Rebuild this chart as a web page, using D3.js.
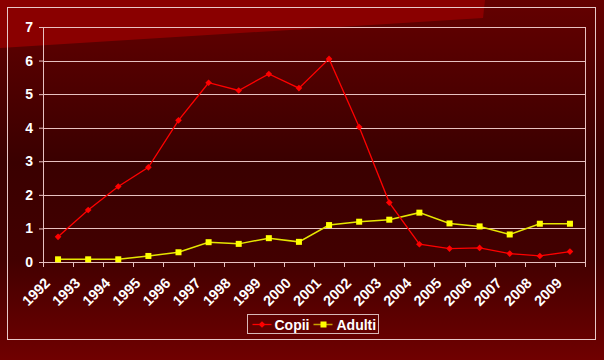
<!DOCTYPE html>
<html>
<head>
<meta charset="utf-8">
<script src="https://cdn.jsdelivr.net/npm/d3@7"></script>
<style>
  body { margin: 0; background: #000; }
  svg text { font-family: "Liberation Sans", Arial, sans-serif; font-weight: bold; fill: #fff; }
</style>
</head>
<body>
<div id="chart"></div>
<script>
var years = ["1992", "1993", "1994", "1995", "1996", "1997", "1998", "1999", "2000",
  "2001", "2002", "2003", "2004", "2005", "2006", "2007", "2008", "2009"];
var copii = [0.75, 1.55, 2.25, 2.82, 4.22, 5.34, 5.11, 5.6, 5.18,
  6.05, 4.02, 1.77, 0.53, 0.4, 0.42, 0.25, 0.18, 0.31];
var adulti = [0.08, 0.08, 0.08, 0.18, 0.29, 0.59, 0.54, 0.71, 0.6,
  1.1, 1.2, 1.26, 1.47, 1.15, 1.06, 0.82, 1.14, 1.14];
var yTicks = [0, 1, 2, 3, 4, 5, 6, 7];

var svgWidth = 604;
var svgHeight = 360;

var margin = { top: 27, right: 19, bottom: 98, left: 43 };
var width = svgWidth - margin.left - margin.right;
var height = svgHeight - margin.top - margin.bottom;

var svg = d3.select("#chart")
  .append("svg")
  .attr("width", svgWidth)
  .attr("height", svgHeight);

// background gradient
var defs = svg.append("defs");
var bg = defs.append("linearGradient")
  .attr("id", "bg")
  .attr("x1", 0).attr("y1", 0).attr("x2", 0).attr("y2", 1);
bg.append("stop").attr("offset", "0%").attr("stop-color", "#640000");
bg.append("stop").attr("offset", "45%").attr("stop-color", "#3a0000");
bg.append("stop").attr("offset", "72%").attr("stop-color", "#420000");
bg.append("stop").attr("offset", "100%").attr("stop-color", "#700000");

svg.append("rect")
  .attr("width", svgWidth)
  .attr("height", svgHeight)
  .attr("fill", "url(#bg)");

// lighter slanted band at the top
svg.append("path")
  .attr("d", "M0,0 L485,0 L483,18 L0,48 Z")
  .attr("fill", "#8a0000");

// outer frame
svg.append("rect")
  .attr("x", 7.5).attr("y", 7.5)
  .attr("width", 588).attr("height", 332)
  .attr("fill", "none")
  .attr("stroke", "#e8c8c8")
  .attr("stroke-width", 1);

var chartGroup = svg.append("g")
  .attr("transform", `translate(${margin.left}, ${margin.top})`);

var xBand = d3.scaleBand()
  .domain(years)
  .range([0, width]);

var yLinearScale = d3.scaleLinear()
  .domain([0, 7])
  .range([height, 0]);

// gridlines
chartGroup.selectAll(".grid")
  .data(yTicks.slice(1))
  .enter()
  .append("line")
  .attr("x1", 0)
  .attr("x2", width)
  .attr("y1", d => Math.round(yLinearScale(d)) + 0.5)
  .attr("y2", d => Math.round(yLinearScale(d)) + 0.5)
  .attr("stroke", "#e8c0c0")
  .attr("stroke-width", 1);

// right border of plot
chartGroup.append("line")
  .attr("x1", width + 0.5).attr("x2", width + 0.5)
  .attr("y1", 0).attr("y2", height)
  .attr("stroke", "#e8c0c0");

// y axis
var leftAxis = d3.axisLeft(yLinearScale)
  .tickValues(yTicks)
  .tickSize(4)
  .tickPadding(6)
  .tickFormat(d3.format("d"));

var yAxis = chartGroup.append("g")
  .call(leftAxis);
yAxis.select(".domain").attr("stroke", "#e8c0c0");
yAxis.selectAll(".tick line").attr("stroke", "#e8c0c0");
yAxis.selectAll("text")
  .attr("font-size", "14px")
  .style("font-family", "Liberation Sans, Arial, sans-serif")
  .style("font-weight", "bold")
  .attr("fill", "#fff");

// x axis: ticks between categories
var xAxisGroup = chartGroup.append("g")
  .attr("transform", `translate(0, ${height})`);
xAxisGroup.append("line")
  .attr("x1", 0).attr("x2", width)
  .attr("y1", 0.5).attr("y2", 0.5)
  .attr("stroke", "#e8c0c0");
xAxisGroup.selectAll(".xtick")
  .data(d3.range(years.length + 1))
  .enter()
  .append("line")
  .attr("x1", i => Math.round(i * xBand.step()) + 0.5)
  .attr("x2", i => Math.round(i * xBand.step()) + 0.5)
  .attr("y1", 0)
  .attr("y2", 5)
  .attr("stroke", "#e8c0c0");

xAxisGroup.selectAll(".xlabel")
  .data(years)
  .enter()
  .append("text")
  .attr("class", "xlabel")
  .attr("text-anchor", "end")
  .attr("font-size", "14.5px")
  .attr("transform", d => `translate(${xBand(d) + xBand.bandwidth() / 2 - 7}, 22) rotate(-45)`)
  .text(d => d);

// lines
var cx = (d, i) => xBand(years[i]) + xBand.bandwidth() / 2;

var line = d3.line()
  .x(cx)
  .y(d => yLinearScale(d));

chartGroup.append("path")
  .datum(adulti)
  .attr("d", line)
  .attr("fill", "none")
  .attr("stroke", "#e6e600")
  .attr("stroke-width", 1.5);

chartGroup.selectAll(".adultiPt")
  .data(adulti)
  .enter()
  .append("rect")
  .attr("x", (d, i) => cx(d, i) - 3)
  .attr("y", d => yLinearScale(d) - 3)
  .attr("width", 6)
  .attr("height", 6)
  .attr("fill", "#ffff00");

chartGroup.append("path")
  .datum(copii)
  .attr("d", line)
  .attr("fill", "none")
  .attr("stroke", "#ff0000")
  .attr("stroke-width", 1.3);

var diamond = d3.symbol().type(d3.symbolSquare).size(22);

chartGroup.selectAll(".copiiPt")
  .data(copii)
  .enter()
  .append("path")
  .attr("d", diamond)
  .attr("transform", (d, i) => `translate(${cx(d, i)}, ${yLinearScale(d)}) rotate(45)`)
  .attr("fill", "#ff0000");

// legend
var legend = svg.append("g")
  .attr("transform", "translate(247.5, 314.5)");
legend.append("rect")
  .attr("width", 131)
  .attr("height", 19)
  .attr("fill", "none")
  .attr("stroke", "#d8b8b8");

legend.append("line")
  .attr("x1", 5).attr("x2", 24).attr("y1", 10).attr("y2", 10)
  .attr("stroke", "#ff0000").attr("stroke-width", 1.3);
legend.append("path")
  .attr("d", diamond)
  .attr("transform", "translate(14.5, 10) rotate(45)")
  .attr("fill", "#ff0000");
legend.append("text")
  .attr("x", 27).attr("y", 15)
  .attr("font-size", "14px")
  .text("Copii");

legend.append("line")
  .attr("x1", 66).attr("x2", 85).attr("y1", 10).attr("y2", 10)
  .attr("stroke", "#c8a000").attr("stroke-width", 1.5);
legend.append("rect")
  .attr("x", 73).attr("y", 7).attr("width", 6).attr("height", 6)
  .attr("fill", "#ffff00");
legend.append("text")
  .attr("x", 89).attr("y", 15)
  .attr("font-size", "14px")
  .text("Adulti");
</script>
</body>
</html>
